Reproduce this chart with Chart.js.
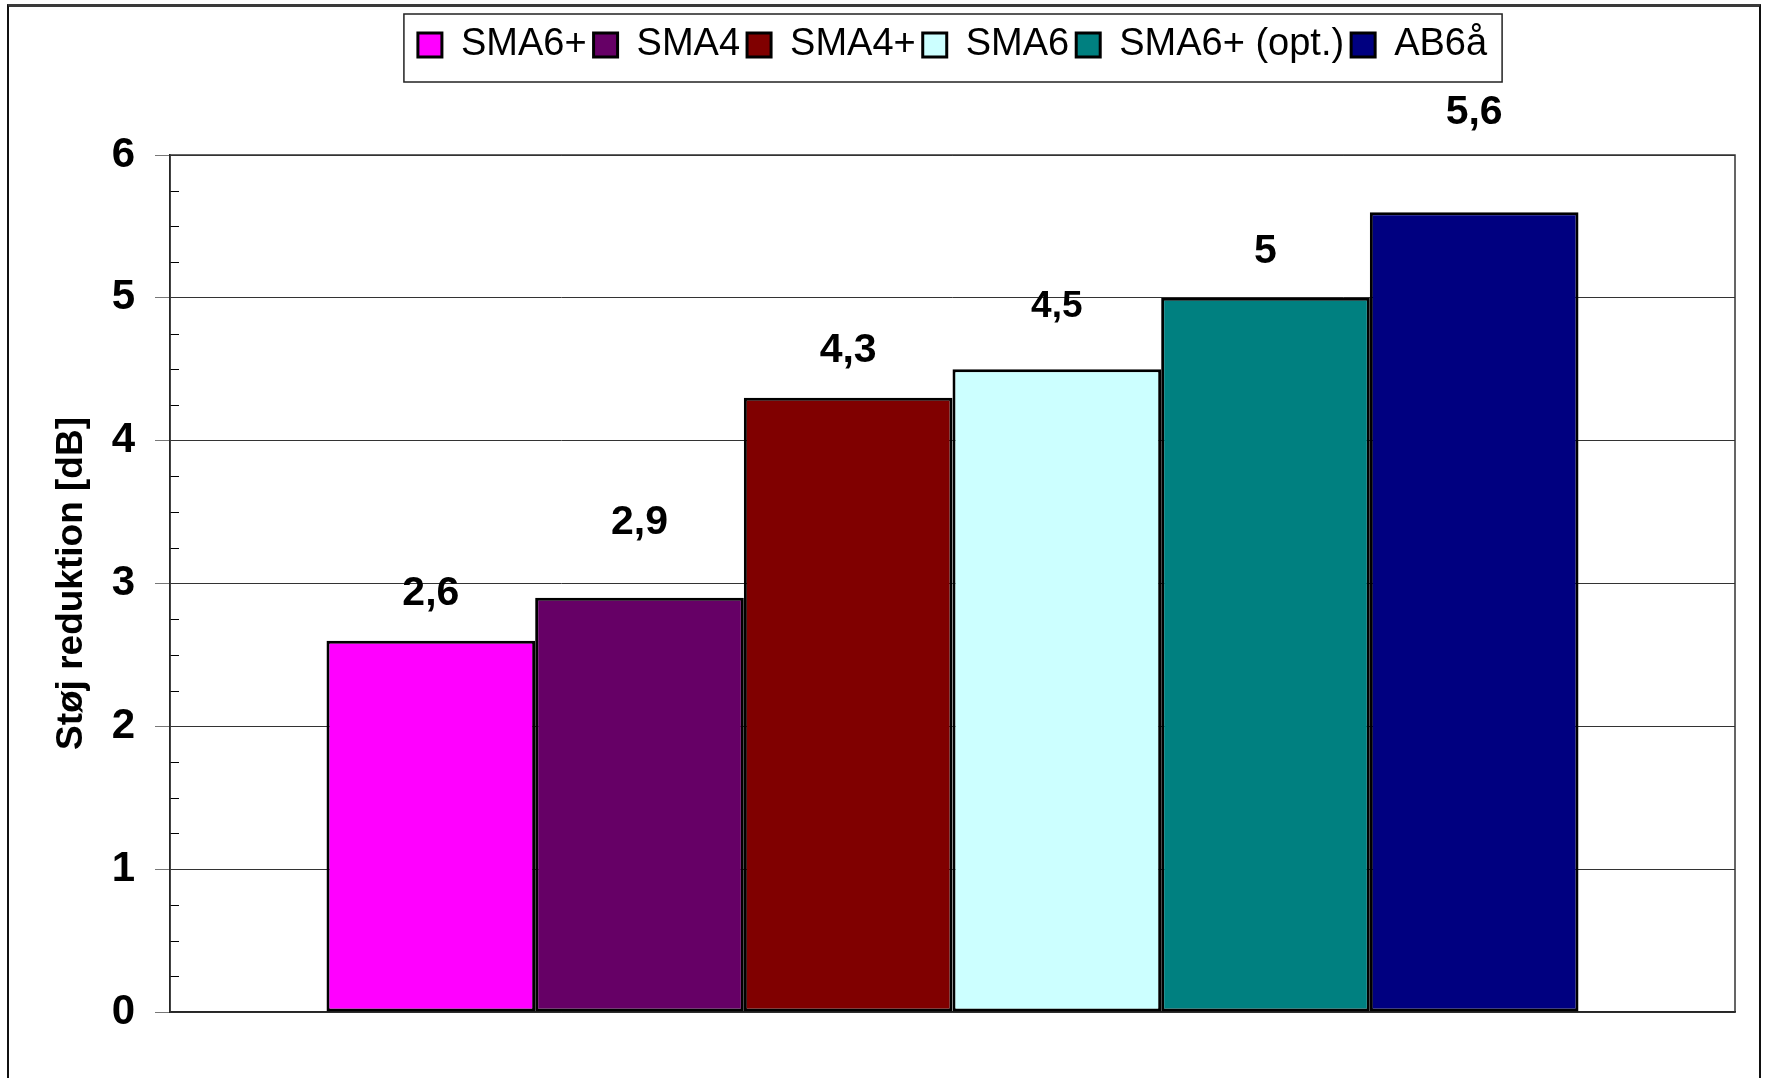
<!DOCTYPE html>
<html lang="da">
<head>
<meta charset="utf-8">
<title>Støj reduktion</title>
<script src="https://cdn.jsdelivr.net/npm/chart.js@4.4.1/dist/chart.umd.min.js"></script>
<style>
  html, body { margin: 0; padding: 0; background: #fff; overflow: hidden; }
  #wrap { position: relative; width: 1768px; height: 1078px; }
  #frame {
    position: absolute; left: 7px; top: 4px; width: 1750px; height: 1100px;
    border-top: 3px solid #3a3a3a; border-left: 2px solid #111; border-right: 2px solid #111;
    pointer-events: none;
  }
</style>
</head>
<body>
<div id="wrap">
  <canvas id="mainChart"></canvas>
  <div id="frame"></div>
</div>
<script>
const seriesNames = ['SMA6+', 'SMA4', 'SMA4+', 'SMA6', 'SMA6+ (opt.)', 'AB6å'];
const noiseReduction = [2.6, 2.9, 4.3, 4.5, 5, 5.6];
const seriesColors = ['#ff00ff', '#660066', '#800000', '#ccffff', '#008080', '#000080'];
const yMin = 0;
const yMax = 6;
const yStep = 1;

// value label placement above each bar (px) and font size
const labelLift = [47, 75, 47, 62, 46, 99];
const labelSize = [41, 41, 41, 37, 41, 41];

const FONT = '"Liberation Sans", Arial, Helvetica, sans-serif';

// small inward ticks every 0.25 on the value axis
const minorTicks = {
  id: 'minorTicks',
  beforeDatasetsDraw(chart) {
    const y = chart.scales.y;
    const ctx = chart.ctx;
    const x0 = chart.chartArea.left;
    ctx.save();
    ctx.strokeStyle = '#000';
    ctx.lineWidth = 1;
    for (let v = yMin + 0.25; v < yMax; v += 0.25) {
      if (v % 1 === 0) continue;
      const py = Math.round(y.getPixelForValue(v)) + 0.5;
      ctx.beginPath();
      ctx.moveTo(x0, py);
      ctx.lineTo(x0 + 9, py);
      ctx.stroke();
    }
    ctx.restore();
  }
};

// frame round the plot area and round the legend
const frames = {
  id: 'frames',
  beforeDatasetsDraw(chart) {
    const a = chart.chartArea;
    const ctx = chart.ctx;
    ctx.save();
    ctx.strokeStyle = '#333';
    ctx.lineWidth = 1.5;
    ctx.strokeRect(a.left, a.top, a.right - a.left, a.bottom - a.top);
    ctx.restore();
  },
  afterDraw(chart) {
    const lg = chart.legend;
    const boxes = lg.legendHitBoxes;
    if (!boxes || !boxes.length) return;
    const first = boxes[0];
    const last = boxes[boxes.length - 1];
    const ctx = chart.ctx;
    ctx.save();
    ctx.strokeStyle = '#222';
    ctx.lineWidth = 1.5;
    const left = first.left - 14;
    const right = last.left + last.width + 15;
    ctx.strokeRect(left, lg.top - 5, right - left, 68);
    ctx.restore();
  }
};

const valueLabels = {
  id: 'valueLabels',
  afterDatasetsDraw(chart) {
    const ctx = chart.ctx;
    ctx.save();
    ctx.fillStyle = '#000';
    ctx.textAlign = 'center';
    ctx.textBaseline = 'middle';
    chart.data.datasets.forEach((ds, i) => {
      const bar = chart.getDatasetMeta(i).data[0];
      ctx.font = `bold ${labelSize[i]}px ${FONT}`;
      ctx.fillText(String(ds.data[0]).replace('.', ','), bar.x, bar.y - labelLift[i]);
    });
    ctx.restore();
  }
};

const ctx = document.getElementById('mainChart').getContext('2d');

new Chart(ctx, {
  type: 'bar',
  data: {
    labels: [''],
    datasets: seriesNames.map((name, i) => ({
      label: name,
      data: [noiseReduction[i]],
      backgroundColor: seriesColors[i],
      borderColor: '#000',
      borderWidth: 3,
      borderSkipped: false,
      barPercentage: 1,
      categoryPercentage: 0.8
    }))
  },
  options: {
    responsive: true,
    maintainAspectRatio: false,
    animation: false,
    layout: { padding: { top: 19, right: 33, bottom: 58, left: 0 } },
    plugins: {
      legend: {
        position: 'top',
        fullSize: false,
        labels: {
          color: '#000',
          font: { family: FONT, size: 38 },
          boxWidth: 24,
          boxHeight: 24,
          padding: 7
        }
      },
      // empty title used as a gap between legend and plot
      title: {
        display: true,
        text: '',
        fullSize: false,
        weight: 500,
        font: { size: 10, lineHeight: 1 },
        padding: { top: 0, bottom: 71 }
      },
      tooltip: { enabled: false }
    },
    scales: {
      x: {
        ticks: { display: false },
        grid: { display: false },
        border: { display: true, color: '#000', width: 1.5 }
      },
      y: {
        min: yMin,
        max: yMax,
        ticks: {
          stepSize: yStep,
          padding: 20,
          color: '#000',
          font: { family: FONT, size: 42, weight: 'bold' }
        },
        grid: {
          color: '#333',
          lineWidth: 1,
          tickLength: 15,
          tickColor: '#777'
        },
        border: { display: true, color: '#000', width: 1.5 },
        title: {
          display: true,
          text: 'Støj reduktion [dB]',
          color: '#000',
          font: { family: FONT, size: 37, weight: 'bold', lineHeight: 1 },
          padding: { top: 53, bottom: 0 }
        },
        afterFit(scale) { scale.width = 170; }
      }
    }
  },
  plugins: [minorTicks, frames, valueLabels]
});
</script>
</body>
</html>
